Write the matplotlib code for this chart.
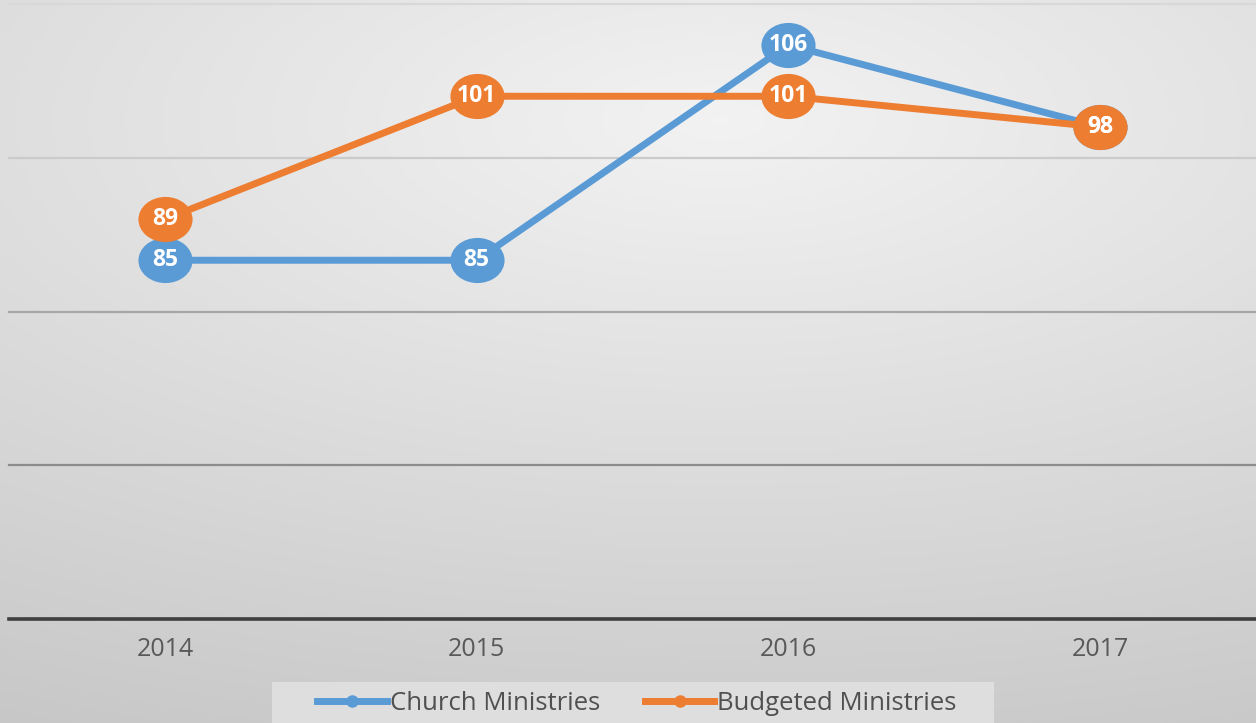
import numpy as np
import matplotlib
matplotlib.use('Agg')
import matplotlib.pyplot as plt
from matplotlib.path import Path
from matplotlib.lines import Line2D
from matplotlib.patches import Rectangle
from matplotlib.transforms import Affine2D

years = ['2014', '2015', '2016', '2017']
church = [85, 85, 106, 98]
budgeted = [89, 101, 101, 98]
series_names = ['Church Ministries', 'Budgeted Ministries']
colors = ['#5B9BD5', '#ED7D31']

plt.rcParams['font.family'] = ['Open Sans', 'DejaVu Sans']

W, H = 1256, 723
fig = plt.figure(figsize=(W / 100, H / 100), dpi=100)

# background gradient
bg = fig.add_axes([0, 0, 1, 1], zorder=-10)
xx, yy = np.meshgrid(np.arange(W), np.arange(H))
d = np.sqrt(((xx - 720) / 1400) ** 2 + ((yy - 120) / 600) ** 2)
c = np.clip(0.95 - 0.15 * d, 0, 1)
bg.imshow(np.dstack([c, c, c]), extent=[0, 1, 0, 1], aspect='auto', origin='upper')
bg.set_xlim(0, 1); bg.set_ylim(0, 1)
bg.axis('off')

ax = fig.add_axes([9 / W, 1 - 619 / H, 1 - 9 / W, 615 / H])
ax.set_facecolor('none')
x = np.arange(len(years))
ellipse = Path.unit_circle().transformed(Affine2D().scale(1.2, 1.0))
for vals, col in zip([church, budgeted], colors):
    ax.plot(x, vals, color=col, lw=5, marker=ellipse, markersize=39,
            markeredgewidth=0, solid_capstyle='round', zorder=3, clip_on=False)
for vals in [church, budgeted]:
    for xi, v in zip(x, vals):
        ax.text(xi, v, str(v), ha='center', va='center', color='white',
                fontsize=16.5, fontweight='bold', zorder=5)

ax.set_xlim(-0.5, 3.5)
ax.set_ylim(50, 110)
ax.set_yticks([50, 65, 80, 95, 110])
ax.set_xticks(x, years)
ax.tick_params(axis='x', length=0, pad=13, labelsize=18, labelcolor='#595959')
ax.tick_params(axis='y', length=0, labelleft=False)
ax.set_axisbelow(True)
ax.grid(axis='y', lw=1.6)
ax.grid(axis='x', visible=False)
for gl, col in zip(ax.yaxis.get_gridlines(), ['#404040', '#8c8c8c', '#a6a6a6', '#cbcbcb', '#d8d8d8']):
    gl.set_color(col)
    gl.set_clip_on(False)
for s in ['top', 'left', 'right']:
    ax.spines[s].set_visible(False)
ax.spines['bottom'].set_color('#404040')
ax.spines['bottom'].set_linewidth(2.6)

# legend box
fig.patches.append(Rectangle((272 / W, 0), (994 - 272) / W, (723 - 682) / H,
                             transform=fig.transFigure, facecolor='#dedede',
                             edgecolor='none', zorder=1))
handles = [Line2D([], [], color=col, lw=5, marker='o', markersize=8) for col in colors]
fig.legend(handles, series_names, loc='center', bbox_to_anchor=(637 / W, 20 / H), ncol=2,
           frameon=False, fontsize=18.5, handlelength=2.7, handletextpad=0.12,
           columnspacing=1.75, labelcolor='#505050', borderpad=0)

fig.savefig('out.png', dpi=100)
